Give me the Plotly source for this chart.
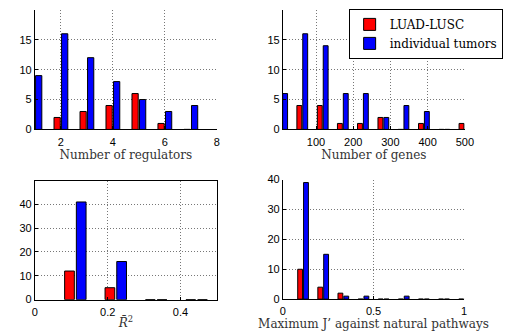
import plotly.graph_objects as go

# ---- data ----
reg_bins = [1, 2, 3, 4, 5, 6, 7]
reg_luad = [0, 2, 3, 4, 6, 1, 0]
reg_indiv = [9, 16, 12, 8, 5, 3, 4]

gene_bins = [9, 63, 118, 172, 226, 281, 335, 390, 445, 499]
gene_luad = [0, 4, 4, 1, 1, 2, 0, 1, 0, 1]
gene_indiv = [6, 16, 14, 6, 6, 2, 4, 3, 0, 0]

r2_bins = [1/9, 2/9, 3/9, 4/9]
r2_luad = [12, 5, 0, 0]
r2_indiv = [41, 16, 0, 0]

j_bins = [k/9 for k in range(1, 10)]
j_luad = [10, 4, 2, 0, 0, 0, 0, 0, 0]
j_indiv = [39, 15, 1, 1, 0, 1, 0, 0, 0]

series_names = ["LUAD-LUSC", "individual tumors"]
series_colors = ["#ff0000", "#0000ff"]

W, H = 508, 336
def px_x(a, b):
    return [a / W, b / W]
def px_y(top, bottom):
    return [1 - bottom / H, 1 - top / H]

panels = [
    dict(bins=reg_bins, vals=[reg_luad, reg_indiv], step=1.0,
         xd=px_x(32.7, 219), yd=px_y(4, 128), xr=[1, 8], yr=[0, 20],
         xt=[2, 4, 6, 8], yt=[0, 5, 10, 15], title="Number of regulators", box=False),
    dict(bins=gene_bins, vals=[gene_luad, gene_indiv], step=54.6,
         xd=px_x(286.7, 473), yd=px_y(4, 128), xr=[11, 500], yr=[0, 20],
         xt=[100, 200, 300, 400, 500], yt=[0, 5, 10, 15], title="Number of genes", box=False),
    dict(bins=r2_bins, vals=[r2_luad, r2_indiv], step=1/9,
         xd=px_x(32.7, 219), yd=px_y(181, 304.5), xr=[0, 0.5], yr=[0, 50],
         xt=[0, 0.2, 0.4], yt=[0, 10, 20, 30, 40], title="<i>R\u0304</i><sup>2</sup>", box=True),
    dict(bins=j_bins, vals=[j_luad, j_indiv], step=1/9,
         xd=px_x(286.7, 472.3), yd=px_y(180, 304), xr=[0, 1], yr=[0, 40],
         xt=[0, 0.5, 1], yt=[0, 10, 20, 30, 40], title="Maximum J\u2019 against natural pathways", box=False),
]

fig = go.Figure()
tickfont = dict(family="Liberation Sans, Arial, sans-serif", size=11, color="#000")
titlefont = dict(family="DejaVu Serif, serif", size=12, color="#333")
grid = dict(showgrid=True, gridcolor="#777", griddash="1px,2px", gridwidth=1)

for i, p in enumerate(panels):
    n = "" if i == 0 else str(i + 1)
    d = p["step"]
    bw = 0.24 * d
    offs = [-0.145 * d - bw / 2, 0.145 * d - bw / 2]
    for s in range(2):
        fig.add_trace(go.Bar(
            x=p["bins"], y=p["vals"][s], width=bw, offset=offs[s],
            marker=dict(color=series_colors[s], line=dict(color="#000", width=1)),
            name=series_names[s], showlegend=(i == 1), legendgroup=series_names[s],
            xaxis="x" + n, yaxis="y" + n, cliponaxis=True,
        ))
    fig.layout["xaxis" + n] = dict(
        domain=p["xd"], range=p["xr"], anchor="y" + n, tickvals=p["xt"],
        showline=True, linecolor="#000", linewidth=1, mirror=p["box"],
        ticks="inside", ticklen=3, tickcolor="#000", tickfont=tickfont,
        zeroline=False, ticklabelstandoff=2,
        title=dict(text=p["title"], font=titlefont, standoff=1), **grid,
    )
    fig.layout["yaxis" + n] = dict(
        domain=p["yd"], range=p["yr"], anchor="x" + n, tickvals=p["yt"],
        showline=True, linecolor="#000", linewidth=1, mirror=p["box"],
        ticks="inside", ticklen=3, tickcolor="#000", tickfont=tickfont,
        zeroline=False, **grid,
    )

fig.update_layout(
    width=W, height=H, margin=dict(l=0, r=0, t=0, b=0),
    paper_bgcolor="white", plot_bgcolor="white", barmode="overlay",
    legend=dict(x=354 / W, y=1 - 3 / H, xanchor="left", yanchor="top",
                bgcolor="white", bordercolor="#000", borderwidth=1,
                font=dict(family="DejaVu Serif, serif", size=12, color="#000"),
                itemwidth=30, tracegroupgap=0),
)

fig.write_html("out.html")
